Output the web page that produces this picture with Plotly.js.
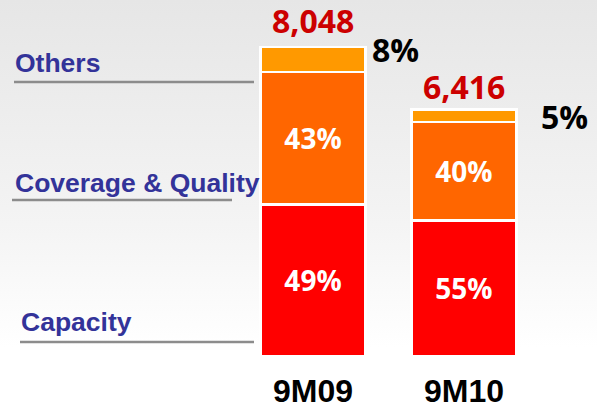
<!DOCTYPE html>
<html>
<head>
<meta charset="utf-8">
<script src="https://cdn.plot.ly/plotly-3.0.1.min.js"></script>
<style>
  html, body { margin: 0; padding: 0; }
  body { width: 597px; height: 408px; background: linear-gradient(to bottom, #e6e6e6 0%, #f4f4f4 55%, #ffffff 85%, #ffffff 100%); }
  #chart { width: 597px; height: 408px; }
</style>
</head>
<body>
<div id="chart"></div>
<script>
// ---- data ----
const periods = ['9M09', '9M10'];
const totals = [8048, 6416];
const seriesNames = ['Capacity', 'Coverage & Quality', 'Others'];
const capacityPct = [49, 55];
const coveragePct = [43, 40];
const othersPct = [8, 5];
const seriesColors = ['#ff0000', '#ff6600', '#ff9900'];

// ---- build ----
const pctSets = [capacityPct, coveragePct, othersPct];
const numFont = '"Open Sans", Lato, sans-serif';
const arialFont = '"Liberation Sans", Arial, sans-serif';

const traces = pctSets.map((pcts, i) => ({
  type: 'bar',
  name: seriesNames[i],
  x: periods,
  y: pcts.map((p, j) => totals[j] * p / 100),
  text: pcts.map(p => p + '%'),
  textposition: i < 2 ? 'inside' : 'none',
  insidetextanchor: 'middle',
  constraintext: 'none',
  textfont: { family: numFont, size: 28, color: '#ffffff', weight: 'bold' },
  marker: { color: seriesColors[i], line: { color: '#ffffff', width: 2.5 } },
  hoverinfo: 'none'
}));

const annotations = [];
// totals above bars
const totalShift = [27, 23];
totals.forEach((t, j) => {
  annotations.push({
    x: periods[j], y: t, xref: 'x', yref: 'y',
    text: t.toLocaleString('en-US'), showarrow: false,
    yanchor: 'middle', yshift: totalShift[j],
    font: { family: numFont, size: 32, color: '#cc0000', weight: 'bold' }
  });
});
// others percent to the right of bars
const othersXShift = [83, 101];
const othersYShift = [-2, -7];
othersPct.forEach((p, j) => {
  annotations.push({
    x: periods[j], y: totals[j], xref: 'x', yref: 'y',
    text: p + '%', showarrow: false,
    xshift: othersXShift[j], yshift: othersYShift[j], yanchor: 'middle',
    font: { family: numFont, size: 32, color: '#000000', weight: 'bold' }
  });
});

// left-side series labels and underlines (pixel positions converted to paper coords)
const plotH = 356, W = 597;
const py = p => (plotH - p) / plotH;
const labelPos = [ {x: 19, y: 322}, {x: 13, y: 183}, {x: 13, y: 63} ];
const linePos = [ {x0: 20, x1: 254, y: 342}, {x0: 12, x1: 232, y: 200}, {x0: 14, x1: 254, y: 82} ];
seriesNames.forEach((n, i) => {
  annotations.push({
    x: labelPos[i].x / W, y: py(labelPos[i].y), xref: 'paper', yref: 'paper',
    xanchor: 'left', yanchor: 'middle', text: n, showarrow: false,
    font: { family: arialFont, size: 26.5, color: '#333399', weight: 'bold' }
  });
});
const shapes = linePos.map(l => ({
  type: 'line', xref: 'paper', yref: 'paper',
  x0: l.x0 / W, x1: l.x1 / W, y0: py(l.y), y1: py(l.y),
  line: { color: '#8c8c8c', width: 2.5 }
}));

const layout = {
  width: 597, height: 408,
  margin: { l: 0, r: 0, t: 0, b: 52, pad: 0 },
  paper_bgcolor: 'rgba(0,0,0,0)',
  plot_bgcolor: 'rgba(0,0,0,0)',
  barmode: 'stack',
  bargap: 0.305,
  showlegend: false,
  xaxis: {
    type: 'category', range: [-2.073, 1.881], fixedrange: true,
    showgrid: false, zeroline: false, showline: false, ticks: '',
    ticklabelstandoff: 13,
    tickfont: { family: arialFont, size: 32, color: '#000000', weight: 'bold' }
  },
  yaxis: {
    range: [0, 9273], visible: false, fixedrange: true,
    showgrid: false, zeroline: false
  },
  annotations: annotations,
  shapes: shapes
};

Plotly.newPlot('chart', traces, layout, { displayModeBar: false, staticPlot: true });
</script>
</body>
</html>
